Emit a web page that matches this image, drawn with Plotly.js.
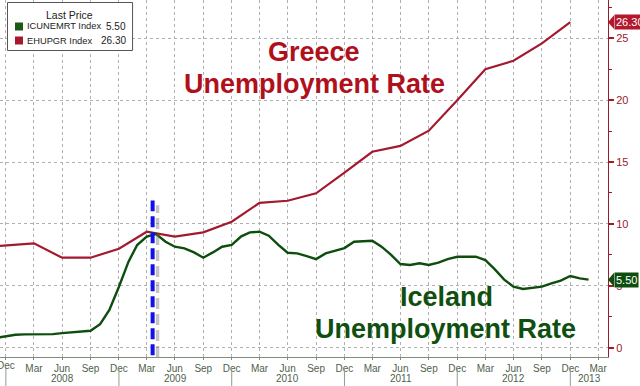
<!DOCTYPE html>
<html>
<head>
<meta charset="utf-8">
<script src="https://cdn.plot.ly/plotly-3.0.1.min.js"></script>
<style>html,body{margin:0;padding:0;background:#fff;}#chart{width:640px;height:386px;}</style>
</head>
<body>
<div id="chart"></div>
<script>
// ---------- DATA ----------
const icelandMonths = ["2007-11","2007-12","2008-01","2008-02","2008-03","2008-04","2008-05","2008-06","2008-07","2008-08","2008-09","2008-10","2008-11","2008-12","2009-01","2009-02","2009-03","2009-04","2009-05","2009-06","2009-07","2009-08","2009-09","2009-10","2009-11","2009-12","2010-01","2010-02","2010-03","2010-04","2010-05","2010-06","2010-07","2010-08","2010-09","2010-10","2010-11","2010-12","2011-01","2011-02","2011-03","2011-04","2011-05","2011-06","2011-07","2011-08","2011-09","2011-10","2011-11","2011-12","2012-01","2012-02","2012-03","2012-04","2012-05","2012-06","2012-07","2012-08","2012-09","2012-10","2012-11","2012-12","2013-01","2013-02"];
const icelandValues = [0.80,0.90,1.05,1.08,1.08,1.08,1.10,1.18,1.24,1.30,1.37,1.90,3.05,4.93,6.95,8.30,8.97,9.18,8.56,8.16,8.03,7.70,7.27,7.70,8.16,8.30,9.00,9.32,9.37,9.05,8.30,7.67,7.62,7.40,7.16,7.62,7.84,8.05,8.56,8.62,8.64,8.16,7.50,6.76,6.68,6.82,6.68,6.87,7.15,7.35,7.33,7.35,7.08,6.35,5.50,4.93,4.74,4.85,4.93,5.20,5.42,5.79,5.60,5.50];

const greeceQuarters = ["2007-09","2007-12","2008-03","2008-06","2008-09","2008-12","2009-03","2009-06","2009-09","2009-12","2010-03","2010-06","2010-09","2010-12","2011-03","2011-06","2011-09","2011-12","2012-03","2012-06","2012-09","2012-12"];
const greeceValues = [8.10,8.25,8.43,7.27,7.27,8.00,9.37,8.97,9.32,10.18,11.70,11.87,12.47,14.15,15.83,16.30,17.53,20.00,22.49,23.18,24.59,26.30];

const tickMonths = ["2007-12","2008-03","2008-06","2008-09","2008-12","2009-03","2009-06","2009-09","2009-12","2010-03","2010-06","2010-09","2010-12","2011-03","2011-06","2011-09","2011-12","2012-03","2012-06","2012-09","2012-12","2013-03"];
const tickLabels = ["Dec","Mar","Jun","Sep","Dec","Mar","Jun","Sep","Dec","Mar","Jun","Sep","Dec","Mar","Jun","Sep","Dec","Mar","Jun","Sep","Dec","Mar"];
const yearLabels = ["2008","2009","2010","2011","2012","2013"];
const yTicks = [0,5,10,15,20,25];

const icelandName = "ICUNEMRT Index";
const greeceName = "EHUPGR Index";
const eventMonthDate = "2009-04-19";

// ---------- STYLE ----------
const GREEN = "#0d4d0d";
const RED = "#a31a2e";
const TITLE_RED = "#b0101c";
const AXIS_RED = "#9b1b2b";
const XLAB = "#4f5f4c";
const FONT = "Liberation Sans, Arial, sans-serif";
const PW = 607.7, PH = 357; // plot area size in px

function monthEnd(ym){
  const [y,m] = ym.split("-").map(Number);
  const d = new Date(Date.UTC(y, m, 0));
  return d.toISOString().slice(0,10);
}
const px = x => x / PW;
const py = y => 1 - y / PH;

const icelandX = icelandMonths.map(monthEnd);
const greeceX = greeceQuarters.map(monthEnd);
const tickVals = tickMonths.map(monthEnd);

const traces = [
  {x: greeceX, y: greeceValues, type: "scatter", mode: "lines", name: greeceName,
   line: {color: RED, width: 2.2}, hoverinfo: "skip"},
  {x: icelandX, y: icelandValues, type: "scatter", mode: "lines", name: icelandName,
   line: {color: GREEN, width: 2.4}, hoverinfo: "skip"}
];

const lastIce = icelandValues[icelandValues.length-1];
const lastGr = greeceValues[greeceValues.length-1];

const shapes = [];
const annotations = [];

// event line (shadow + blue dashed)
function addDays(dstr, n){ const d = new Date(dstr+"T00:00:00Z"); d.setUTCDate(d.getUTCDate()+n); return d.toISOString().slice(0,10); }
shapes.push({type:"line", xref:"x", yref:"y", x0: addDays(eventMonthDate,16), x1: addDays(eventMonthDate,16), y0:-0.75, y1:11.5,
  line:{color:"rgba(110,110,110,0.4)", width:3.5, dash:"11px,5px"}, layer:"above"});
shapes.push({type:"line", xref:"x", yref:"y", x0: eventMonthDate, x1: eventMonthDate, y0:-0.6, y1:11.9,
  line:{color:"#1010ee", width:4, dash:"11px,5px"}, layer:"above"});

// first (cut) Dec label at the left edge
annotations.push({xref:"x", yref:"paper", x:tickVals[0], y:py(366), text:tickLabels[0], showarrow:false,
  font:{family:FONT, size:10, color:XLAB}, xanchor:"center", yanchor:"middle"});

// year separators & labels
const yearStarts = yearLabels.map(y => (Number(y)-1) + "-12-31");
yearStarts.forEach(d => shapes.push({type:"line", xref:"x", yref:"paper", x0:d, x1:d, y0:-0.03, y1:-0.085,
  line:{color:"#8f9f8c", width:1}}));
yearLabels.forEach((y,i) => {
  const x = (i === yearLabels.length-1) ? y + "-03-03" : y + "-07-01";
  annotations.push({xref:"x", yref:"paper", x:x, y:py(378.5), text:y, showarrow:false,
    font:{family:FONT, size:10, color:XLAB}, xanchor:"center", yanchor:"middle"});
});

// legend box
shapes.push({type:"rect", xref:"paper", yref:"paper", x0:px(7.5), x1:px(132.5), y0:py(50.5), y1:py(2.5),
  fillcolor:"#ffffff", line:{color:"#555555", width:1}, layer:"above"});
shapes.push({type:"rect", xref:"paper", yref:"paper", x0:px(15), x1:px(23), y0:py(30.5), y1:py(22.5),
  fillcolor:"#1a5a1a", line:{width:0}, layer:"above"});
shapes.push({type:"rect", xref:"paper", yref:"paper", x0:px(15), x1:px(23), y0:py(44.5), y1:py(36.5),
  fillcolor:"#a8182c", line:{width:0}, layer:"above"});
const nameFont = {family:FONT, size:9.3, color:"#222"};
const valFont = {family:FONT, size:10, color:"#222"};
annotations.push({xref:"paper", yref:"paper", x:px(69), y:py(15.5), text:"Last Price", showarrow:false, font:{family:FONT, size:10.5, color:"#222"}, xanchor:"center", yanchor:"middle"});
annotations.push({xref:"paper", yref:"paper", x:px(25), y:py(26.5), text:icelandName, showarrow:false, font:nameFont, xanchor:"left", yanchor:"middle"});
annotations.push({xref:"paper", yref:"paper", x:px(128), y:py(26.5), text:lastIce.toFixed(2), showarrow:false, font:valFont, xanchor:"right", yanchor:"middle"});
annotations.push({xref:"paper", yref:"paper", x:px(25), y:py(40.5), text:greeceName, showarrow:false, font:nameFont, xanchor:"left", yanchor:"middle"});
annotations.push({xref:"paper", yref:"paper", x:px(128), y:py(40.5), text:lastGr.toFixed(2), showarrow:false, font:valFont, xanchor:"right", yanchor:"middle"});

// big titles
const tFontR = {family:FONT, size:27, color:TITLE_RED, weight:"bold"};
const tFontG = {family:FONT, size:27, color:"#0f4f0f", weight:"bold"};
annotations.push({xref:"paper", yref:"paper", x:px(314), y:py(52), text:"<b>Greece</b>", showarrow:false, font:tFontR, xanchor:"center", yanchor:"middle"});
annotations.push({xref:"paper", yref:"paper", x:px(314.5), y:py(84), text:"<b>Unemployment Rate</b>", showarrow:false, font:tFontR, xanchor:"center", yanchor:"middle"});
annotations.push({xref:"paper", yref:"paper", x:px(446), y:py(297), text:"<b>Iceland</b>", showarrow:false, font:tFontG, xanchor:"center", yanchor:"middle"});
annotations.push({xref:"paper", yref:"paper", x:px(445.5), y:py(328.5), text:"<b>Unemployment Rate</b>", showarrow:false, font:tFontG, xanchor:"center", yanchor:"middle"});

// last-value tags
function tag(val, bg){
  shapes.push({type:"path", xref:"paper", yref:"y",
    path:`M 1 ${val} L ${1+6/PW} ${val+0.55} L ${1+6/PW} ${val-0.55} Z`,
    fillcolor:bg, line:{width:0}, layer:"above"});
  annotations.push({xref:"paper", yref:"y", x:1, y:val, xshift:6, text:val.toFixed(2), showarrow:false,
    xanchor:"left", yanchor:"middle", bgcolor:bg, borderpad:1,
    font:{family:FONT, size:11, color:"#ffffff"}});
}
tag(lastGr, "#b4182c");
tag(lastIce, "#0d4d0d");

const layout = {
  width:640, height:386,
  margin:{l:0, r:32.3, t:0, b:29},
  paper_bgcolor:"#ffffff", plot_bgcolor:"#ffffff",
  showlegend:false,
  xaxis:{
    type:"date", range:["2007-12-12","2013-05-02"],
    tickmode:"array", tickvals:tickVals, ticktext:tickLabels,
    tickfont:{family:FONT, size:10, color:XLAB},
    showgrid:true, gridcolor:"#b0b0b0", griddash:"dot", gridwidth:1,
    showline:true, linecolor:"#7f8f7c", linewidth:1,
    ticks:"outside", ticklen:2, tickcolor:"#7f8f7c", ticklabelstandoff:0,
    zeroline:false, fixedrange:true
  },
  yaxis:{
    side:"right", range:[-0.75, 28.09],
    tickmode:"array", tickvals:yTicks, ticktext:yTicks.map(String),
    tickfont:{family:FONT, size:11, color:AXIS_RED},
    ticks:"outside", ticklen:5, tickwidth:2, tickcolor:AXIS_RED,
    minor:{tickmode:"linear", tick0:0, dtick:2.5, ticks:"outside", ticklen:3, tickwidth:1, tickcolor:AXIS_RED, showgrid:false},
    showline:true, linecolor:AXIS_RED, linewidth:1,
    showgrid:true, gridcolor:"#b0b0b0", griddash:"dot", gridwidth:1,
    zeroline:false, fixedrange:true
  },
  shapes:shapes,
  annotations:annotations
};

Plotly.newPlot("chart", traces, layout, {staticPlot:true, displayModeBar:false});
</script>
</body>
</html>
